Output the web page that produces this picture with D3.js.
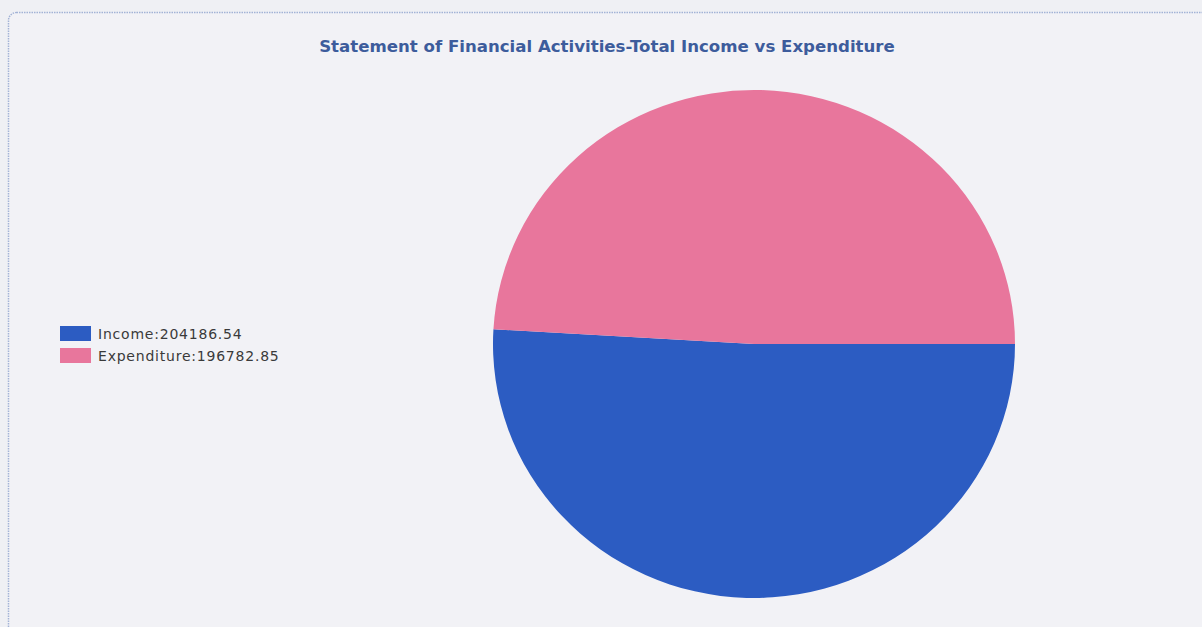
<!DOCTYPE html>
<html>
<head>
<meta charset="utf-8">
<script src="https://cdn.jsdelivr.net/npm/d3@7"></script>
<style>
  html, body { margin: 0; padding: 0; background: #eff0f4; }
  svg { display: block; }
</style>
</head>
<body>
<svg id="chart" width="1202" height="627"></svg>
<script>
// Statement of financial activities: total income vs expenditure
const categories = ["Income", "Expenditure"];
const values = [204186.54, 196782.85];
const colors = ["#2c5cc2", "#e8769c"];
const title = "Statement of Financial Activities-Total Income vs Expenditure";

const svg = d3.select("#chart");
const W = 1202, H = 627;

// panel frame
svg.append("rect")
  .attr("x", 8.5).attr("y", 12.5)
  .attr("width", W + 20).attr("height", H + 20)
  .attr("rx", 8).attr("ry", 8)
  .attr("fill", "#f2f2f6")
  .attr("stroke", "#a3b3d6")
  .attr("stroke-width", 1.5)
  .attr("stroke-dasharray", "1.5,1");

// title
svg.append("text")
  .attr("x", 607).attr("y", 52)
  .attr("text-anchor", "middle")
  .attr("font-family", "DejaVu Sans, Verdana, sans-serif")
  .attr("font-weight", "bold")
  .attr("font-size", 16.6)
  .attr("fill", "#3d5c9c")
  .text(title);

// pie
const data = categories.map((c, i) => ({ name: c, value: values[i], color: colors[i] }));
const pie = d3.pie()
  .value(d => d.value)
  .sort(null)
  .startAngle(Math.PI / 2)
  .endAngle(Math.PI / 2 + 2 * Math.PI);

const rx = 261, ry = 254;
const arc = d3.arc().innerRadius(0).outerRadius(rx);

const g = svg.append("g")
  .attr("transform", `translate(754,344) scale(1,${ry / rx})`);

g.selectAll("path")
  .data(pie(data))
  .join("path")
  .attr("d", arc)
  .attr("fill", d => d.data.color);

// legend
const legend = svg.append("g").attr("transform", "translate(60,326)");
const item = legend.selectAll("g")
  .data(data)
  .join("g")
  .attr("transform", (d, i) => `translate(0,${i * 22})`);

item.append("rect")
  .attr("width", 31).attr("height", 15)
  .attr("fill", d => d.color);

item.append("text")
  .attr("x", 38).attr("y", 13)
  .attr("font-family", "DejaVu Sans, Verdana, sans-serif")
  .attr("font-size", 14)
  .attr("letter-spacing", 0.78)
  .attr("fill", "#3a3a3a")
  .text(d => `${d.name}:${d.value.toFixed(2)}`);
</script>
</body>
</html>
